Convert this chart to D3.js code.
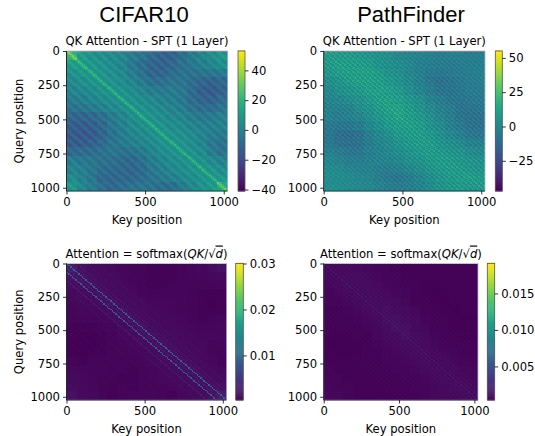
<!DOCTYPE html>
<html><head><meta charset="utf-8">
<script src="https://cdnjs.cloudflare.com/ajax/libs/d3/7.8.5/d3.min.js"></script>
<style>
html,body{margin:0;padding:0;background:#fff}
svg{display:block}
text{font-family:"DejaVu Sans",sans-serif;fill:#000}
</style></head><body>
<script>
// Column headers and labels
const columnTitles = ["CIFAR10", "PathFinder"];
const positionTicks = [0, 250, 500, 750, 1000];
const keyTicks = [0, 500, 1000];
const matrixLength = 1024;

// Colour ranges and colour-bar ticks (attention panels are in units of 0.001)
const cifarQkRange = [-41, 53];
const pathQkRange = [-47, 55];
const cifarAttnRange = [0.3, 30];
const pathAttnRange = [0.4, 19.1];
const cifarQkTicks = [-40, -20, 0, 20, 40];
const pathQkTicks = [-25, 0, 25, 50];
const cifarAttnTicks = [10, 20, 30];
const pathAttnTicks = [5, 10, 15];

// Slow variation: 16 x 16 blocks (row = query, column = key)
const cifarQkBase = [
[22,11,8,6,5,3,-1,-4,-8,-11,-11,-7,-2,2,6,9],
[11,11,9,7,5,2,-3,-7,-10,-11,-9,-6,-3,0,3,6],
[7,9,9,8,6,3,-1,-6,-10,-10,-7,-5,-5,-5,-4,-2],
[4,6,8,8,7,5,2,-2,-6,-6,-4,-4,-7,-10,-11,-9],
[2,3,5,7,8,7,5,2,-1,-2,-1,-3,-8,-12,-13,-11],
[-1,0,2,4,6,8,7,5,3,1,-1,-3,-7,-10,-11,-8],
[-5,-4,-2,0,3,6,8,7,5,3,1,-1,-5,-7,-7,-4],
[-10,-10,-9,-6,-2,2,6,8,7,5,3,2,-1,-3,-2,0],
[-12,-13,-12,-9,-4,0,4,6,8,7,5,4,2,1,0,1],
[-13,-14,-13,-10,-5,-1,2,4,6,8,7,6,4,2,-1,-2],
[-13,-13,-11,-8,-4,-2,0,2,4,7,8,7,5,2,-3,-5],
[-8,-8,-7,-5,-4,-5,-5,-2,2,5,7,8,7,4,-1,-5],
[-1,-3,-4,-5,-6,-8,-9,-6,-1,2,5,7,8,7,4,1],
[2,0,-3,-7,-8,-9,-10,-8,-3,0,3,5,7,9,8,6],
[5,1,-4,-9,-10,-9,-9,-7,-4,-2,0,3,5,8,9,9],
[9,3,-1,-6,-9,-7,-5,-4,-5,-7,-7,-2,3,7,10,18]];

const pathQkBase = [
[8,8,8,7,6,4,3,0,-1,-2,-3,-4,-3,-3,-4,-4],
[8,9,9,9,8,5,3,2,0,-3,-4,-5,-5,-4,-4,-4],
[6,8,9,10,10,8,5,3,0,-3,-6,-7,-6,-5,-4,-3],
[3,5,8,9,10,9,7,4,1,-3,-7,-9,-8,-6,-4,-4],
[1,3,5,7,9,10,9,7,3,-1,-5,-8,-8,-7,-5,-5],
[-1,0,2,4,7,9,10,9,6,3,-2,-5,-7,-7,-6,-6],
[-3,-3,-2,2,4,8,10,11,8,5,1,-3,-5,-8,-8,-7],
[-3,-4,-3,-1,3,6,9,11,9,7,3,-1,-4,-8,-9,-9],
[-6,-7,-7,-5,0,3,7,9,9,8,4,2,-3,-6,-9,-9],
[-7,-10,-11,-9,-4,0,3,7,8,8,6,3,0,-3,-6,-7],
[-6,-9,-10,-9,-5,-1,2,5,7,8,7,5,3,1,-2,-3],
[-3,-5,-7,-7,-4,-2,0,3,5,7,8,6,5,4,2,1],
[0,-2,-4,-4,-3,-2,-2,0,3,4,7,8,7,6,5,4],
[2,1,-1,-2,-2,-4,-5,-4,-1,2,5,7,8,7,6,5],
[3,2,1,0,-1,-4,-6,-7,-5,-1,2,5,7,8,8,7],
[3,3,2,1,0,-2,-4,-5,-4,-2,1,4,6,7,7,7]];

const cifarAttnBase = [
[2.2,1.3,1.1,1.0,.9,.8,.7,.6,.5,.5,.5,.6,.8,.9,1.2,1.5],
[1.5,1.3,1.2,1.1,1.0,.8,.7,.6,.5,.5,.5,.6,.7,.8,.9,1.1],
[1.2,1.2,1.2,1.1,1.0,.9,.8,.6,.5,.5,.6,.7,.7,.7,.7,.8],
[.9,1.1,1.1,1.2,1.1,1.0,.9,.7,.6,.6,.7,.7,.6,.5,.5,.5],
[.8,.9,1.0,1.1,1.2,1.1,1.0,.9,.8,.8,.8,.7,.6,.5,.4,.5],
[.7,.8,.8,.9,1.1,1.2,1.1,1.0,.9,.9,.8,.7,.6,.5,.5,.5],
[.6,.7,.7,.8,.9,1.1,1.2,1.1,1.0,.9,.9,.8,.6,.5,.6,.7],
[.5,.5,.5,.6,.7,.9,1.1,1.2,1.1,1.0,.9,.9,.8,.7,.7,.8],
[.5,.4,.4,.5,.6,.8,.9,1.1,1.2,1.1,1.0,.9,.9,.8,.8,.8],
[.4,.4,.4,.5,.6,.7,.8,.9,1.1,1.2,1.1,1.0,.9,.9,.7,.7],
[.4,.4,.5,.5,.6,.7,.7,.8,.9,1.1,1.2,1.1,1.0,.9,.7,.6],
[.6,.5,.6,.6,.6,.6,.6,.7,.9,1.0,1.1,1.2,1.1,.9,.8,.6],
[.8,.8,.7,.7,.6,.6,.5,.6,.7,.9,1.0,1.1,1.2,1.1,.9,.8],
[1.0,.9,.8,.6,.6,.5,.5,.6,.7,.8,.9,1.0,1.1,1.2,1.1,1.0],
[1.2,1.0,.8,.6,.5,.6,.5,.6,.7,.7,.8,.9,1.0,1.1,1.3,1.3],
[1.5,1.1,.9,.7,.5,.6,.7,.7,.7,.6,.5,.8,.9,1.1,1.3,2.2]];

const pathAttnBase = [
[.8,.8,.8,.8,.7,.6,.6,.5,.5,.5,.5,.5,.5,.5,.5,.5],
[.8,.8,.9,.9,.8,.7,.6,.6,.5,.5,.5,.5,.5,.5,.5,.5],
[.7,.8,.9,.9,.9,.8,.7,.6,.5,.5,.4,.4,.5,.5,.5,.5],
[.6,.7,.8,.9,.9,.9,.8,.7,.6,.5,.4,.4,.4,.5,.5,.5],
[.6,.6,.7,.8,.9,.9,.9,.8,.7,.5,.5,.4,.4,.5,.5,.5],
[.5,.5,.6,.7,.8,.9,1.0,.9,.8,.7,.5,.5,.4,.4,.5,.5],
[.5,.5,.5,.6,.7,.8,1.0,1.0,.9,.8,.6,.5,.5,.4,.4,.4],
[.5,.5,.5,.5,.6,.7,.9,1.0,1.0,.8,.7,.5,.5,.4,.4,.4],
[.5,.4,.4,.5,.5,.7,.8,.9,1.0,.9,.8,.6,.5,.5,.4,.4],
[.4,.4,.4,.4,.5,.6,.7,.8,.9,.9,.8,.7,.6,.5,.5,.5],
[.5,.4,.4,.4,.5,.5,.6,.7,.8,.9,.9,.8,.7,.6,.5,.5],
[.5,.5,.5,.5,.5,.5,.6,.6,.7,.8,.9,.8,.8,.7,.6,.6],
[.6,.5,.5,.5,.5,.5,.5,.6,.6,.7,.8,.9,.8,.8,.7,.7],
[.6,.6,.5,.5,.5,.5,.5,.5,.6,.6,.7,.8,.9,.8,.8,.7],
[.7,.6,.6,.5,.5,.5,.5,.5,.5,.6,.6,.7,.8,.9,.9,.8],
[.7,.7,.6,.5,.5,.5,.5,.5,.5,.5,.6,.7,.8,.8,.9,.9]];

// Stripe strength on each diagonal, 10.67 positions per step, key - query = -95 ... 95
const cifarQkDiagonals = [
2,-3,-4,-3,2,
4,1,-3,-4,-3,1, 4,2,-3,-5,-3,2, 4,1,-3,-4,-3,2, 5,2,-3,-5,-3,1, 4,2,-3,-4,-3,2,
5,2,-3,-5,-3,2, 5,2,-3,-5,-3,2, 4,2,-3,-5,-3,2, 5,2,-3,-5,-3,2, 5,2,-3,-5,-4,2,
5,2,-3,-5,-3,2, 5,2,-4,-5,-3,2, 5,2,-3,-5,-3,2, 5,2,-3,-5,-3,1, 5,1,-3,-4,0,6,
14,
6,0,-4,-3,1,
5,2,-3,-5,-3,2, 5,2,-3,-5,-3,2, 5,2,-4,-5,-3,2, 5,2,-3,-5,-3,2, 5,2,-3,-5,-4,2,
5,2,-3,-5,-3,2, 5,2,-3,-5,-3,2, 4,2,-3,-5,-3,2, 5,2,-3,-5,-3,2, 5,2,-3,-5,-3,2,
4,2,-3,-4,-3,2, 5,2,-3,-5,-3,1, 4,1,-3,-4,-3,2, 4,2,-3,-5,-3,2, 4,1,-3,-4,-3,1];

const pathQkDiagonals = [
0,-4,
4,0,-4, 4,0,-4, 5,0,-4, 4,0,-4, 4,0,-5, 5,0,-4, 5,0,-5, 5,0,-5,
5,0,-5, 5,0,-5, 6,0,-5, 5,0,-5, 6,0,-5, 6,0,-6, 6,0,-5, 6,0,-6,
6,0,-6, 7,0,-6, 7,0,-6, 7,0,-6, 7,0,-7, 7,0,-6, 7,0,-7, 7,0,-7,
7,0,-7, 8,0,-7, 8,0,-7, 8,0,-7, 8,0,-7, 8,0,-7, 8,0,-6,
10,
0,-6,
8,0,-7, 8,0,-7, 8,0,-7, 8,0,-7, 8,0,-7, 7,0,-7, 7,0,-7, 7,0,-7, 7,0,-6, 7,0,-7,
7,0,-6, 7,0,-6, 7,0,-6, 6,0,-6, 6,0,-6, 6,0,-5, 6,0,-6, 6,0,-5, 5,0,-5, 6,0,-5,
5,0,-5, 5,0,-5, 5,0,-5, 5,0,-4, 5,0,-5, 4,0,-4, 5,0,-4, 4,0,-4, 4,0,-4, 4,0,-4, 4,0,-4];

const cifarAttnDiagonals = [
0,0,0,0,0,
.1,0,0,0,0,0, .1,0,0,0,0,0, .1,0,0,.1,0,0, .1,0,0,.1,0,0, .1,0,0,.1,0,0,
.2,0,0,.1,0,0, .2,0,0,.1,0,0, .2,0,0,.1,0,0, .3,0,0,.1,0,0, .3,0,0,.1,0,0,
.4,0,0,.1,0,0, .4,0,0,.2,0,0, .5,0,0,.2,0,.1, 1.3,.1,0,.4,0,.1, 7.5,.3,.1,1.2,.1,.3,
8,
.3,.1,.8,.1,.1,
.8,.1,0,.3,0,.1, .5,0,0,.2,0,0, .4,0,0,.2,0,0, .3,0,0,.1,0,0, .3,0,0,.1,0,0,
.3,0,0,.1,0,0, .2,0,0,.1,0,0, .2,0,0,.1,0,0, .2,0,0,.1,0,0, .1,0,0,.1,0,0,
.1,0,0,.1,0,0, .1,0,0,.1,0,0, .1,0,0,0,0,0, .1,0,0,0,0,0, .1,0,0,0,0,0];

const pathAttnDiagonals = [
0,0,
.1,0,0, .1,0,0, .1,0,0, .1,0,0, .1,0,0, .1,0,0, .1,0,0, .1,0,0, .1,0,0, .1,0,0,
.1,0,0, .1,0,0, .1,0,0, .1,0,0, .1,0,0, .2,0,0, .2,0,0, .2,0,0, .2,0,0, .2,0,0,
.2,0,0, .2,0,0, .2,0,0, .2,0,0, .2,0,0, .2,0,0, .2,0,0, .2,0,0, .3,0,0, .3,0,0, .4,0,0,
.7,
0,0,
.4,0,0, .3,0,0, .3,0,0, .2,0,0, .2,0,0, .2,0,0, .2,0,0, .2,0,0, .2,0,0, .2,0,0,
.2,0,0, .2,0,0, .2,0,0, .2,0,0, .2,0,0, .1,0,0, .1,0,0, .1,0,0, .1,0,0, .1,0,0,
.1,0,0, .1,0,0, .1,0,0, .1,0,0, .1,0,0, .1,0,0, .1,0,0, .1,0,0, .1,0,0, .1,0,0, .1,0,0];

const width = 535, height = 436;
const minusFmt = d => String(d).replace("-", "\u2212");
const panels = [
  {box:[66.5,51,227.5,191], bar:[238,245], base:cifarQkBase, diag:cifarQkDiagonals, range:cifarQkRange, ticks:cifarQkTicks, fmt:minusFmt, kind:"qk", ylabel:true},
  {box:[323.7,51,485,191], bar:[495.3,502.3], base:pathQkBase, diag:pathQkDiagonals, range:pathQkRange, ticks:pathQkTicks, fmt:minusFmt, kind:"qk", ylabel:false},
  {box:[66.5,263.5,226.5,400], bar:[235.7,243.3], base:cifarAttnBase, diag:cifarAttnDiagonals, range:cifarAttnRange, ticks:cifarAttnTicks, fmt:d=>(d/1000).toFixed(2), kind:"attn", ylabel:true},
  {box:[323.7,263.5,478,400], bar:[487.3,494.7], base:pathAttnBase, diag:pathAttnDiagonals, range:pathAttnRange, ticks:pathAttnTicks, fmt:d=>(d/1000).toFixed(3), kind:"attn", ylabel:false}
];

const svg = d3.select("body").append("svg").attr("width",width).attr("height",height).attr("viewBox",`0 0 ${width} ${height}`);

svg.selectAll("text.col").data(columnTitles).join("text").attr("class","col")
  .attr("x",(d,i)=>i?411:144).attr("y",21.5).attr("text-anchor","middle")
  .style("font-family","'Liberation Sans',sans-serif").style("font-size","22px").text(d=>d);

const cellsPerSide = 96, blockSize = 6, mid = 95;
const fontSize = 11.6;

panels.forEach(p=>{
  const [x0,y0,x1,y1] = p.box;
  const g = svg.append("g");
  const x = d3.scaleLinear().domain([0,matrixLength]).range([x0,x1]);
  const y = d3.scaleLinear().domain([0,matrixLength]).range([y0,y1]);
  const color = d3.scaleSequential(d3.interpolateViridis).domain(p.range);
  const step = matrixLength/cellsPerSide;
  const cells = [];
  for(let i=0;i<cellsPerSide;i++) for(let j=0;j<cellsPerSide;j++){
    cells.push({i,j,v:p.base[Math.floor(i/blockSize)][Math.floor(j/blockSize)] + p.diag[j-i+mid]});
  }
  g.append("g").attr("shape-rendering","crispEdges").selectAll("rect").data(cells).join("rect")
    .attr("x",d=>x(d.j*step)).attr("y",d=>y(d.i*step))
    .attr("width",x(step)-x(0)+0.4).attr("height",y(step)-y(0)+0.4)
    .attr("fill",d=>color(d.v));
  // frame
  g.append("rect").attr("x",x0).attr("y",y0).attr("width",x1-x0).attr("height",y1-y0)
    .attr("fill","none").attr("stroke","#a9b9c9").attr("stroke-width",0.8);
  // axes
  const ax = g.append("g").attr("transform",`translate(0,${y1})`)
    .call(d3.axisBottom(x).tickValues(keyTicks).tickSize(3.5).tickPadding(3).tickFormat(d3.format("d")));
  const ay = g.append("g").attr("transform",`translate(${x0},0)`)
    .call(d3.axisLeft(y).tickValues(positionTicks).tickSize(3.5).tickPadding(3).tickFormat(d3.format("d")));
  [ax,ay].forEach(a=>{a.selectAll("text").style("font-size",fontSize+"px").style("font-family","'DejaVu Sans'");
    a.selectAll("line,path").attr("stroke","#000").attr("stroke-width",0.8);a.selectAll("path").attr("d",a===ax?`M${x0},0H${x1}`:`M0,${y0}V${y1}`);});
  // x label
  g.append("text").attr("x",(x0+x1)/2).attr("y",y1+32.5).attr("text-anchor","middle").style("font-size",fontSize+"px").text("Key position");
  if(p.ylabel){
    g.append("text").attr("transform",`translate(23,${(y0+y1)/2}) rotate(-90)`).attr("text-anchor","middle").style("font-size",fontSize+"px").text("Query position");
  }
  // title
  const t = g.append("text").attr("x",(x0+x1)/2).attr("y",y0-6).attr("text-anchor","middle").style("font-size",fontSize+"px");
  if(p.kind==="qk"){ t.text("QK Attention - SPT (1 Layer)"); }
  else {
    t.append("tspan").text("Attention = softmax(");
    t.append("tspan").style("font-style","italic").text("QK");
    t.append("tspan").text("/\u221A");
    t.append("tspan").style("font-style","italic").style("text-decoration","overline").text("d");
    t.append("tspan").text(")");
  }
  // colour bar
  const [bx0,bx1] = p.bar;
  const cb = d3.scaleLinear().domain(p.range).range([y1,y0]);
  const levels = d3.range(0,141).map(k=>p.range[0]+(p.range[1]-p.range[0])*k/140);
  const bh = (y1-y0)/140;
  g.append("g").selectAll("rect").data(levels).join("rect")
    .attr("x",bx0).attr("width",bx1-bx0).attr("y",d=>cb(d)-bh).attr("height",bh+0.5).attr("fill",d=>color(d));
  g.append("rect").attr("x",bx0).attr("y",y0).attr("width",bx1-bx0).attr("height",y1-y0).attr("fill","none").attr("stroke","#555").attr("stroke-width",0.8);
  const ac = g.append("g").attr("transform",`translate(${bx1},0)`)
    .call(d3.axisRight(cb).tickValues(p.ticks).tickSize(3.5).tickPadding(3).tickFormat(p.fmt));
  ac.select("path").remove();
  ac.selectAll("line").attr("stroke","#000").attr("stroke-width",0.8);
  ac.selectAll("text").style("font-size",fontSize+"px").style("font-family","'DejaVu Sans'");
});
</script>
</body></html>
